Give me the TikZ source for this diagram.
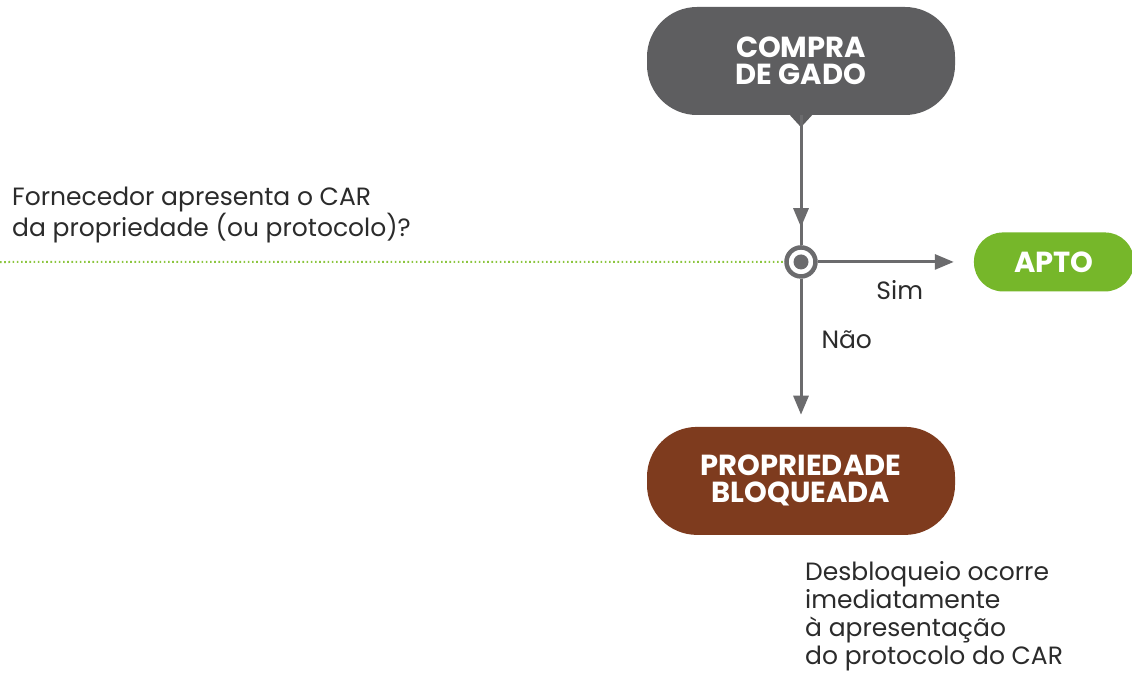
\documentclass[tikz,border=0pt]{standalone}
\usepackage{fontspec}
\setmainfont{Poppins}
\usetikzlibrary{arrows.meta,positioning,decorations.markings}
\definecolor{boxgray}{HTML}{5E5E60}
\definecolor{aptogreen}{HTML}{76B72A}
\definecolor{bloqbrown}{HTML}{7E3B1E}
\definecolor{linegray}{HTML}{6B6B6D}
\definecolor{dotgreen}{HTML}{8CC63F}
\definecolor{txtgray}{HTML}{2B2B2B}

\begin{document}
\begin{tikzpicture}[x=1pt,y=-1pt,
   >={Triangle[length=19pt,width=15pt]},
   box/.style={rectangle,rounded corners=50pt,minimum width=308pt,minimum height=108pt,
               inner sep=0pt,align=center,text=white,font=\bfseries\fontsize{29}{27}\selectfont},
   start/.style={box,fill=boxgray},
   stop/.style={box,fill=bloqbrown},
   ok/.style={box,fill=aptogreen,rounded corners=29pt,minimum width=160pt,minimum height=59pt},
   chk/.style={circle,draw=linegray,line width=4.5pt,fill=white,minimum size=29pt,inner sep=0pt,
               path picture={\fill[linegray] (path picture bounding box.center) circle (7.5pt);}},
   note/.style={inner sep=0pt,align=left,text=txtgray,font=\fontsize{25}{28}\selectfont},
   flow/.style={draw=linegray,line width=3pt},
   midarrow/.style={postaction={decorate},decoration={markings,mark=at position -18pt with {\arrow{>}}}},
   ask/.style={dotgreen,line width=2pt,dash pattern=on 1.6pt off 2.6pt}
  ]
  \useasboundingbox[fill=white] (0,0) rectangle (1132,679);

  \node[start] (compra) at (801,61) {COMPRA\\DE GADO};
  \fill[boxgray] ([xshift=-11pt]compra.south) -- ([xshift=11pt]compra.south)
     -- ([yshift=-12pt]compra.south) -- cycle;
  \node[chk,below=130pt of compra] (dec) {};
  \node[ok,right=156pt of dec]     (apto) {APTO};
  \node[stop,below=148pt of dec]   (bloq) {PROPRIEDADE\\BLOQUEADA};

  \coordinate (askstart) at (0,262);
  \node[note,anchor=north west] (ask) at (12,187) {Fornecedor apresenta o CAR\\da propriedade (ou protocolo)?};
  \node[note,anchor=north west] (unlock) at (805,561) {Desbloqueio ocorre\\imediatamente\\à apresentação\\do protocolo do CAR};

  \draw[ask] (askstart) -- (dec.west);
  \draw[flow,midarrow] (compra.south) -- (dec.north);
  \draw[flow,->,shorten >=20pt] (dec.east) -- node[note,below=17pt,xshift=4pt] (sim) {Sim} (apto.west);
  \draw[flow,->,shorten >=12pt] (dec.south) -- node[note,right=19pt,pos=0.41] (nao) {Não} (bloq.north);
\end{tikzpicture}
\end{document}
